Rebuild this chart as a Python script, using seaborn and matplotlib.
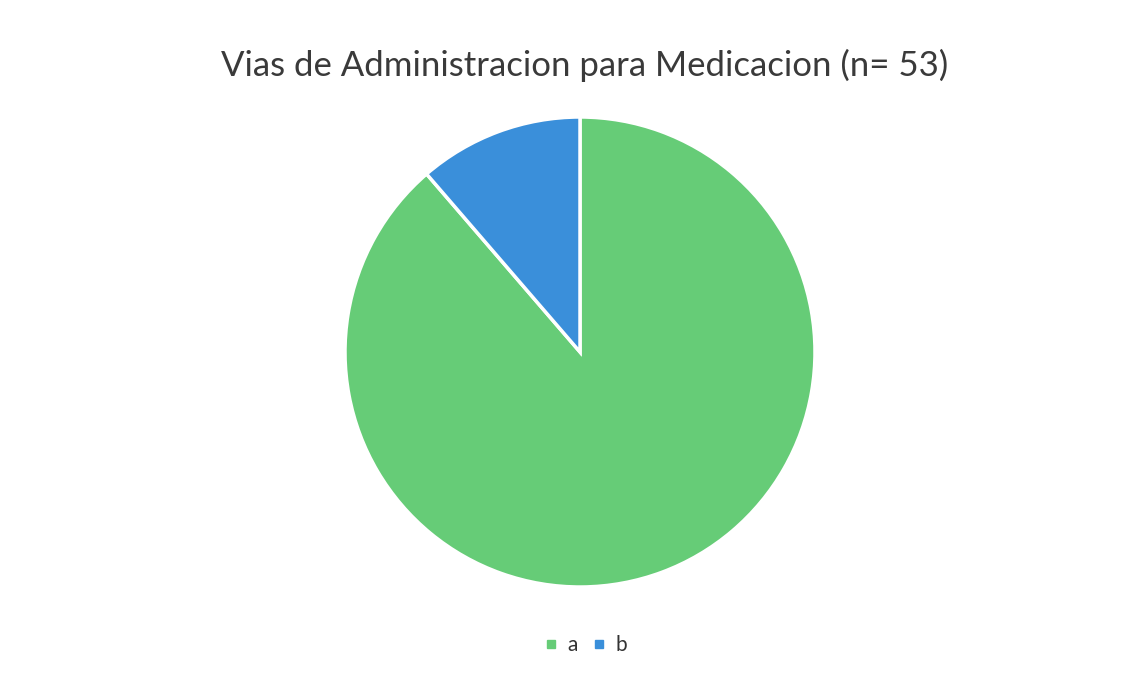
import matplotlib
matplotlib.use("Agg")
import matplotlib.pyplot as plt
import seaborn as sns
from matplotlib.lines import Line2D

# data (n = 53)
labels = ["a", "b"]
counts = [47, 6]
colors = ["#66CC77", "#3A8FDA"]

sns.set_theme(style="white")
plt.rcParams['font.family'] = ['Lato', 'DejaVu Sans']

fig = plt.figure(figsize=(11.39, 6.81), dpi=100)
fig.patch.set_facecolor("white")

# pie area: center around (580, 352) px, radius ~235 px
ax = fig.add_axes([345 / 1139, 94 / 681, 470 / 1139, 470 / 681])
ax.pie(counts, colors=colors, startangle=90, counterclock=False,
       wedgeprops=dict(edgecolor="white", linewidth=2.5))
ax.set_xlim(-1.0, 1.0)
ax.set_ylim(-1.0, 1.0)
ax.set_aspect("equal")
ax.axis("off")

fig.text(585 / 1139, 1 - 65 / 681, "Vias de Administracion para Medicacion (n= 53)",
         ha="center", va="center", fontsize=25, color="#3a3a3a")

handles = [Line2D([0], [0], marker="s", linestyle="", markersize=6,
                  markerfacecolor=c, markeredgecolor=c) for c in colors]
fig.legend(handles, labels, loc="center", bbox_to_anchor=(583 / 1139, 1 - 645 / 681),
           ncol=2, frameon=False, fontsize=15, handlelength=1.2, handletextpad=0.2,
           columnspacing=0.4, labelcolor="#333333")

fig.savefig("out.png", dpi=100, facecolor="white")
